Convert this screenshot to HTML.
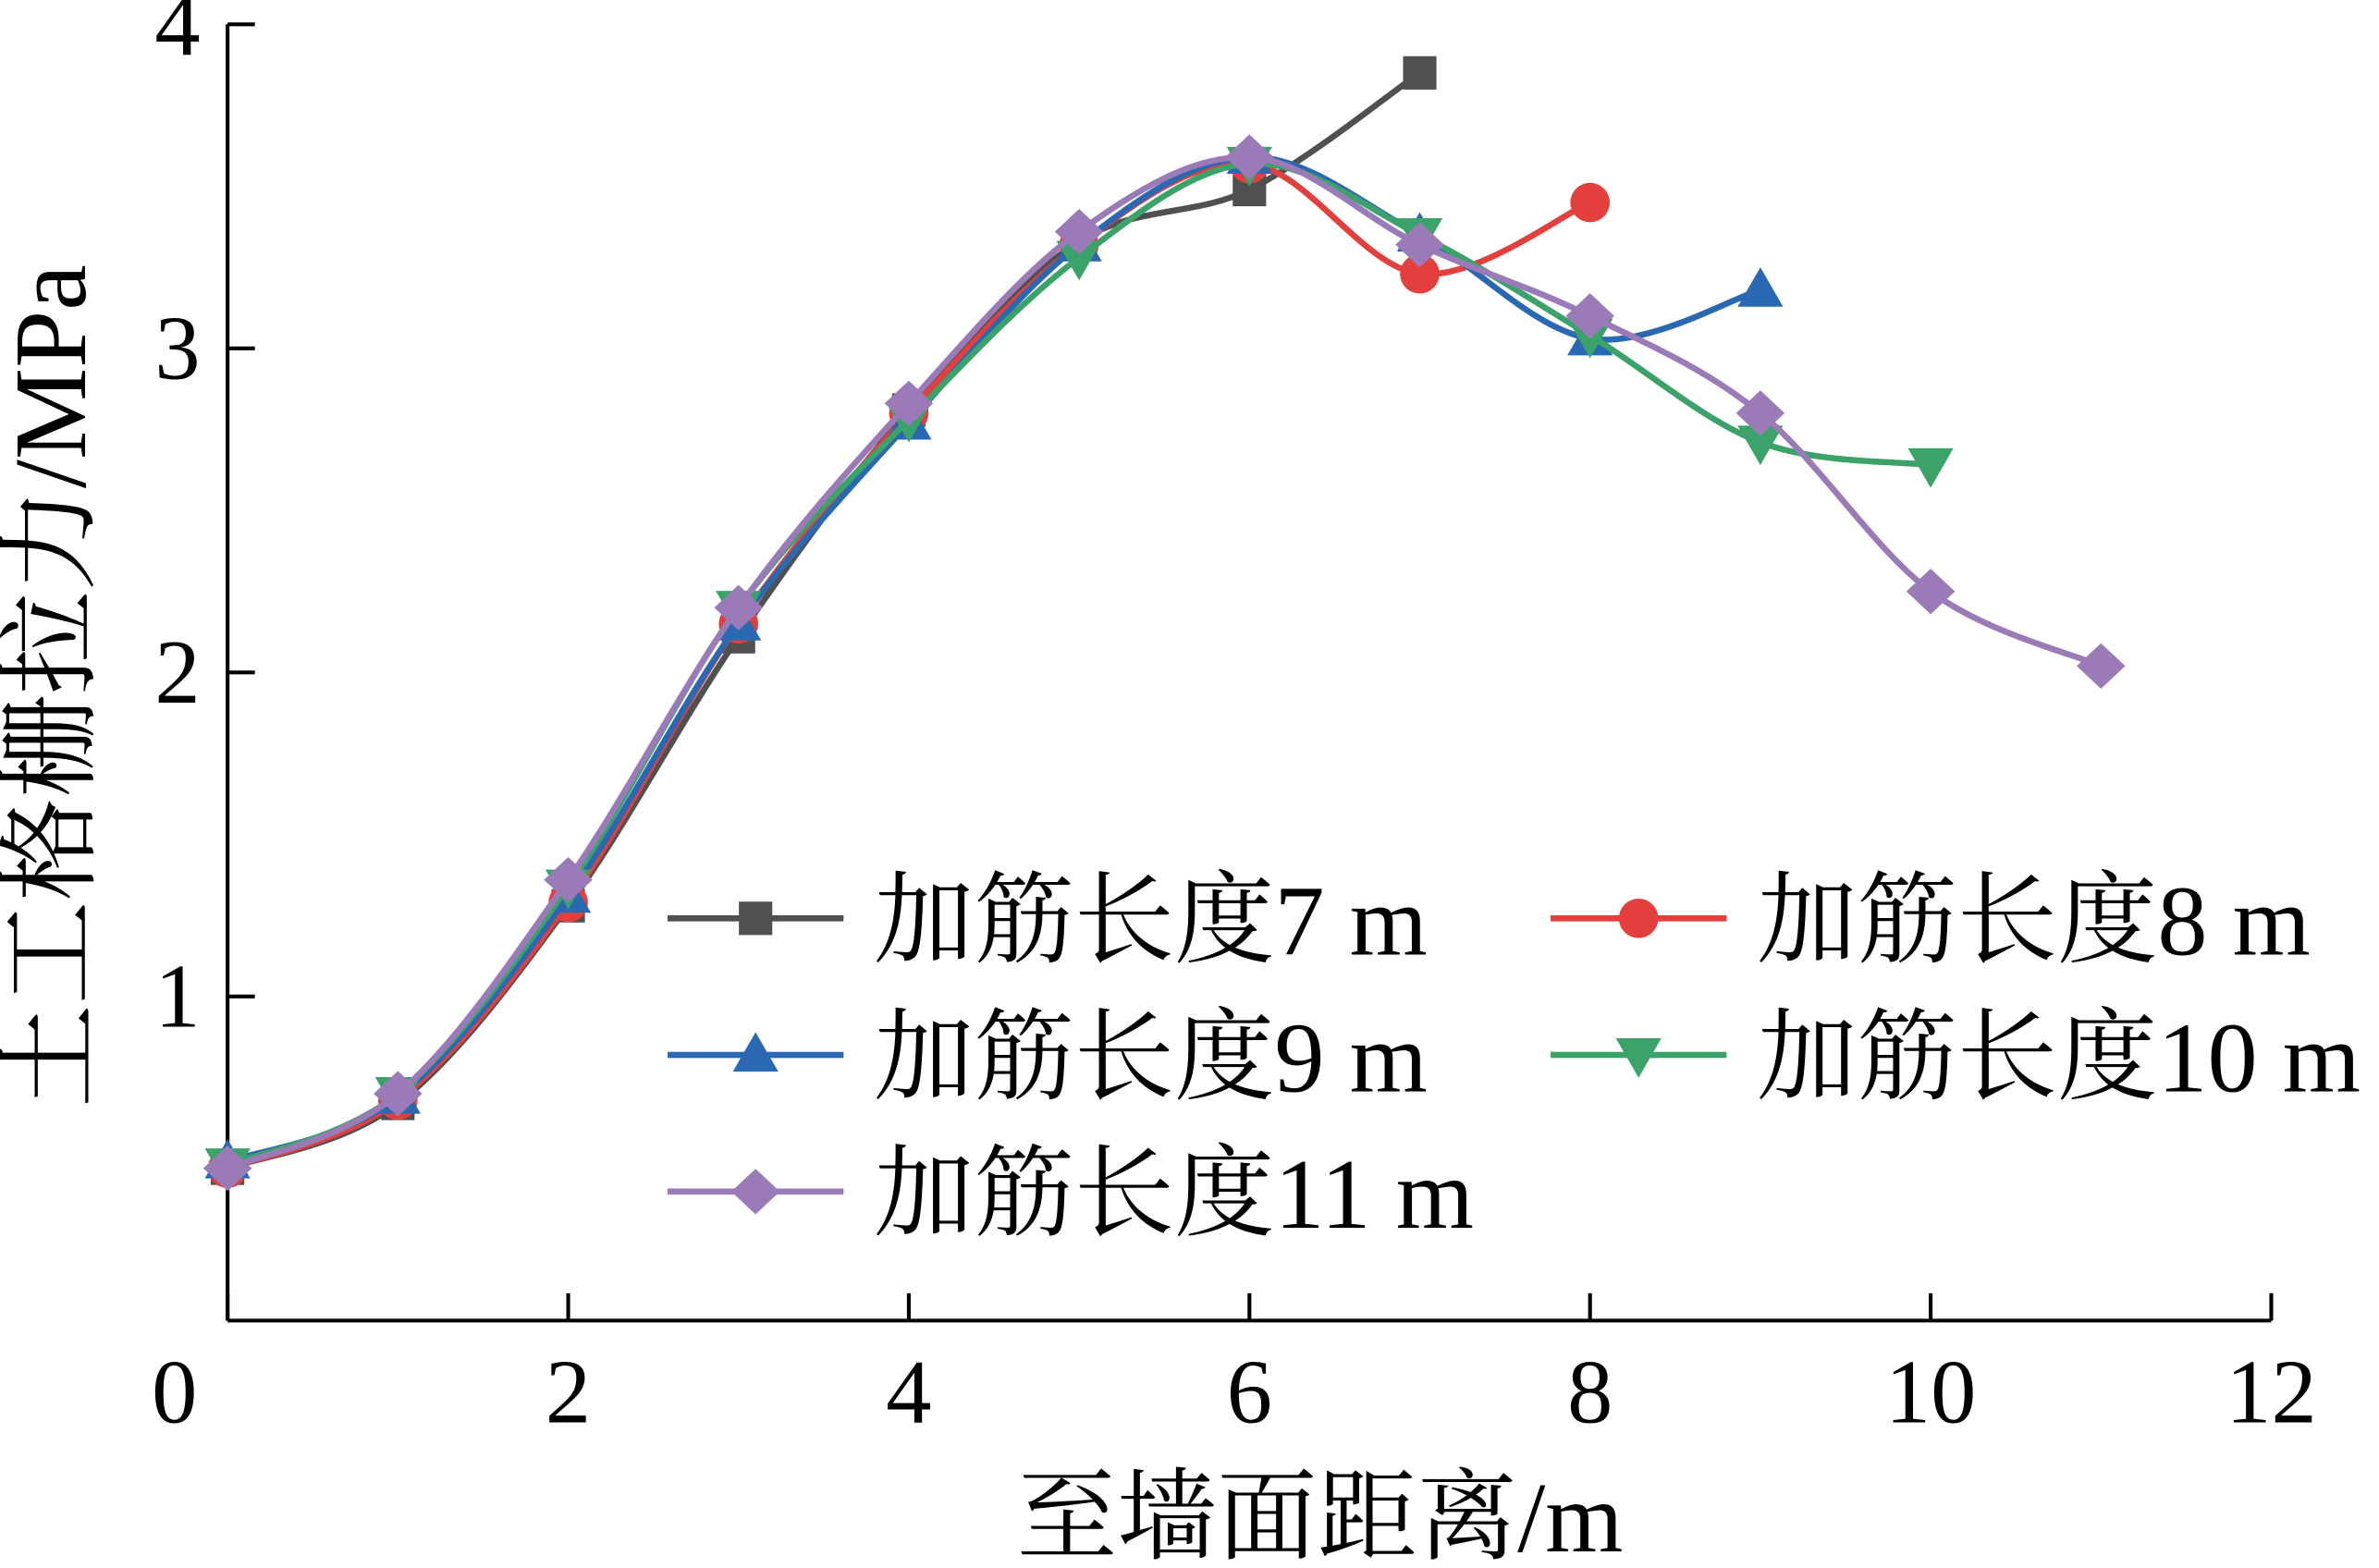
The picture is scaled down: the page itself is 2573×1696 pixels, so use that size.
<!DOCTYPE html>
<html><head><meta charset="utf-8"><style>
html,body{margin:0;padding:0;background:#fff;}
svg{display:block;}
text{font-family:"Liberation Serif","Times New Roman","Noto Serif CJK SC",serif;fill:#000;}
</style></head><body>
<svg id="chart" width="2573" height="1696" viewBox="0 0 1568 1033" preserveAspectRatio="none" xmlns="http://www.w3.org/2000/svg">
<g id="axes"></g>
<g id="series"></g>
<g id="legend"></g>
<text x="870" y="1022" font-size="66" text-anchor="middle">至墙面距离/m</text>
<text transform="translate(56,452) rotate(-90)" font-size="68" text-anchor="middle">土工格栅拉力/MPa</text>
</svg>
<script>
const xTicks = [0, 2, 4, 6, 8, 10, 12];
const yTicks = [1, 2, 3, 4];
const seriesNames = ["加筋长度7 m", "加筋长度8 m", "加筋长度9 m", "加筋长度10 m", "加筋长度11 m"];
const s7 = [0.47, 0.67, 1.28, 2.11, 2.81, 3.33, 3.49, 3.85];
const s8 = [0.47, 0.68, 1.29, 2.15, 2.80, 3.32, 3.57, 3.23, 3.45];
const s9 = [0.49, 0.69, 1.31, 2.15, 2.77, 3.32, 3.59, 3.35, 3.03, 3.18];
const s10 = [0.48, 0.70, 1.34, 2.20, 2.78, 3.28, 3.57, 3.35, 3.04, 2.71, 2.64];
const s11 = [0.47, 0.70, 1.36, 2.20, 2.83, 3.36, 3.59, 3.32, 3.10, 2.80, 2.25, 2.02];

const NS = "http://www.w3.org/2000/svg";
const X0 = 150, X1 = 1497, Y0 = 870, Y4 = 16;
function xs(v){ return X0 + v * (X1 - X0) / 12; }
function ys(v){ return Y0 - v * (Y0 - Y4) / 4; }
function mk(tag, attrs, parent){ const e = document.createElementNS(NS, tag); for (const k in attrs) e.setAttribute(k, attrs[k]); parent.appendChild(e); return e; }

const axes = document.getElementById('axes');
let ax = mk('line', {x1:X0, y1:Y4, x2:X0, y2:Y0, stroke:'#000', 'stroke-width':2.5}, axes);


let bx = mk('line', {x1:X0, y1:Y0, x2:X1, y2:Y0, stroke:'#000', 'stroke-width':2.5}, axes);


xTicks.forEach(t => {
  const tk = mk('line', {x1:xs(t), y1:Y0, x2:xs(t), y2:Y0-18, stroke:'#000', 'stroke-width':2.5}, axes);
  
  
  const lb = mk('text', {x:xs(t) - (t===0?35:0), y:937, 'font-size':60, 'text-anchor':'middle'}, axes);
  lb.textContent = t;
  
  
});
yTicks.forEach(t => {
  const tk = mk('line', {x1:X0, y1:ys(t), x2:X0+18, y2:ys(t), stroke:'#000', 'stroke-width':2.5}, axes);
  
  
  const lb = mk('text', {x:132, y:ys(t)+20, 'font-size':60, 'text-anchor':'end'}, axes);
  lb.textContent = t;
  
  
});

const colors = ['#505050', '#e3403d', '#2a68b2', '#3ba36a', '#9b7bb7'];
const shapes = ['square', 'circle', 'up', 'down', 'diamond'];
const data = [s7, s8, s9, s10, s11];

function marker(shape, x, y, c, parent){
  let e;
  if (shape === 'square') e = mk('rect', {x:x-11, y:y-11, width:22, height:22, fill:c}, parent);
  else if (shape === 'circle') e = mk('circle', {cx:x, cy:y, r:13, fill:c}, parent);
  else if (shape === 'up') e = mk('polygon', {points:`${x},${y-15} ${x+15},${y+11} ${x-15},${y+11}`, fill:c}, parent);
  else if (shape === 'down') e = mk('polygon', {points:`${x},${y+15} ${x+15},${y-11} ${x-15},${y-11}`, fill:c}, parent);
  else e = mk('polygon', {points:`${x},${y-15} ${x+16},${y} ${x},${y+15} ${x-16},${y}`, fill:c}, parent);
  return e;
}
function smoothPath(pts){
  let d = `M${pts[0][0]},${pts[0][1]}`;
  for (let i = 0; i < pts.length - 1; i++){
    const p0 = pts[Math.max(0,i-1)], p1 = pts[i], p2 = pts[i+1], p3 = pts[Math.min(pts.length-1,i+2)];
    const c1x = p1[0] + (p2[0]-p0[0])/6, c1y = p1[1] + (p2[1]-p0[1])/6;
    const c2x = p2[0] - (p3[0]-p1[0])/6, c2y = p2[1] - (p3[1]-p1[1])/6;
    d += ` C${c1x},${c1y} ${c2x},${c2y} ${p2[0]},${p2[1]}`;
  }
  return d;
}
const sg = document.getElementById('series');
data.forEach((arr, si) => {
  const g = mk('g', {}, sg);
  
  
  const pts = arr.map((v,i) => [xs(i), ys(v)]);
  const p = mk('path', {d:smoothPath(pts), fill:'none', stroke:colors[si], 'stroke-width':4}, g);
  
  
  pts.forEach(pt => {
    const m = marker(shapes[si], pt[0], pt[1], colors[si], g);
    
    
  });
});

const lg = document.getElementById('legend');
const legPos = [[440,605],[1022,605],[440,695],[1022,695],[440,785]];
seriesNames.forEach((name, si) => {
  const [lx, ly] = legPos[si];
  const g = mk('g', {}, lg);
  
  
  mk('line', {x1:lx, y1:ly, x2:lx+116, y2:ly, stroke:colors[si], 'stroke-width':4}, g);
  marker(shapes[si], lx+58, ly, colors[si], g);
  const t = mk('text', {x:lx+136, y:ly+24, 'font-size':66}, g);
  t.textContent = name;
  
  
});
</script>
</body></html>
